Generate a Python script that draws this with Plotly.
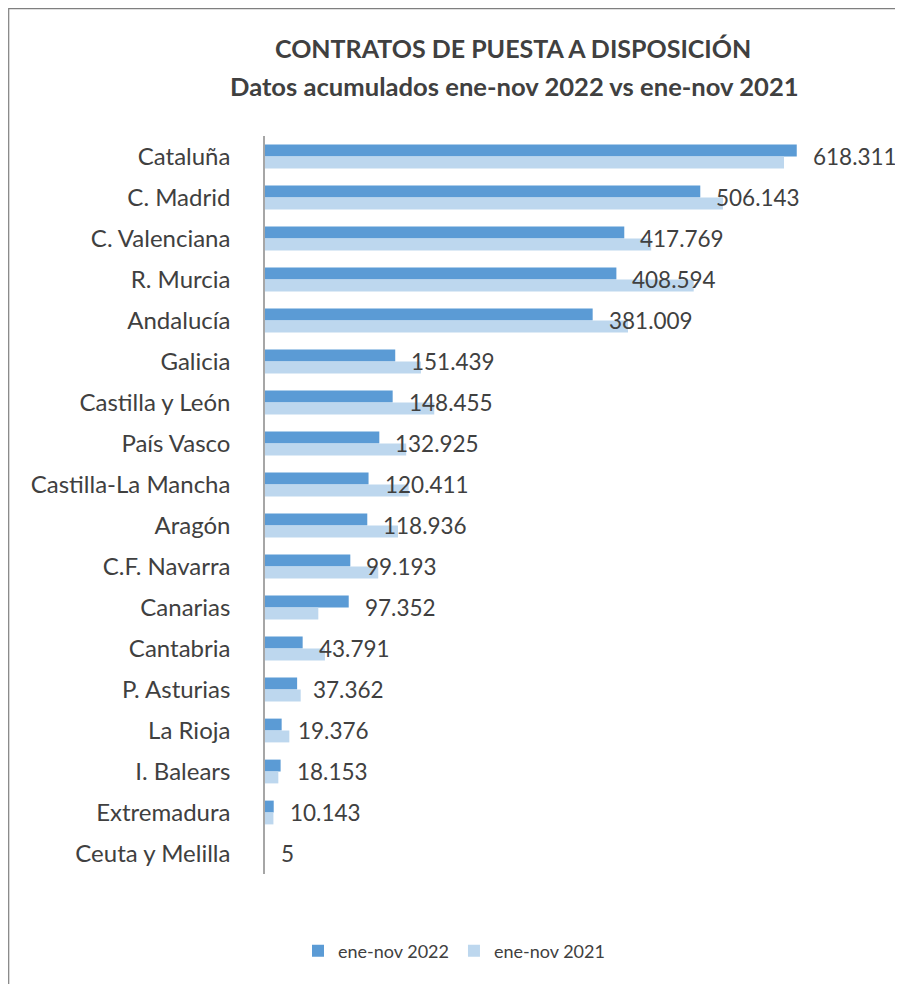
import plotly.graph_objects as go

categories = ["Cataluña", "C. Madrid", "C. Valenciana", "R. Murcia", "Andalucía", "Galicia",
              "Castilla y León", "País Vasco", "Castilla-La Mancha", "Aragón", "C.F. Navarra",
              "Canarias", "Cantabria", "P. Asturias", "La Rioja", "I. Balears", "Extremadura",
              "Ceuta y Melilla"]
values_2022 = [618311, 506143, 417769, 408594, 381009, 151439, 148455, 132925, 120411, 118936,
               99193, 97352, 43791, 37362, 19376, 18153, 10143, 5]
values_2021 = [603500, 532500, 449100, 498500, 422100, 181300, 196800, 164200, 167000, 154600,
               131700, 62000, 69700, 41500, 28300, 15500, 9800, 4]
series_names = ["ene-nov 2022", "ene-nov 2021"]
title_text = "CONTRATOS DE PUESTA A DISPOSICIÓN"
subtitle_text = "Datos acumulados ene-nov 2022 vs ene-nov 2021"

FONT = "Lato"
TXT = "#404040"

# page body has an 8px margin; coordinates below are screen pixels
OFF = 8
W, H = 903 - OFF, 984 - OFF
L, R, T, B = 265 - OFF, 36, 136 - OFF, 110
pw, ph = W - L - R, H - T - B

def px(x):
    return (x - OFF - L) / pw

def py(y):
    return (H - B - (y - OFF)) / ph

fig = go.Figure()
fig.add_trace(go.Bar(y=categories, x=values_2022, name=series_names[0], orientation="h",
                     marker=dict(color="#5B9BD5", line=dict(width=0))))
fig.add_trace(go.Bar(y=categories, x=values_2021, name=series_names[1], orientation="h",
                     marker=dict(color="#BDD7EE", line=dict(width=0))))

annotations = []
for c, v in zip(categories, values_2022):
    annotations.append(dict(x=v, y=c, xref="x", yref="y", text=f"{v:,}".replace(",", "."),
                            showarrow=False, xanchor="left", yanchor="middle", xshift=14,
                            font=dict(family=FONT, size=22.5, color=TXT)))
annotations.append(dict(x=px(513), y=py(48), xref="paper", yref="paper", text=f"<b>{title_text}</b>",
                        showarrow=False, xanchor="center", yanchor="middle",
                        font=dict(family=FONT, size=25, color=TXT)))
annotations.append(dict(x=px(514), y=py(86), xref="paper", yref="paper", text=f"<b>{subtitle_text}</b>",
                        showarrow=False, xanchor="center", yanchor="middle",
                        font=dict(family=FONT, size=25.6, color=TXT)))

fig.update_layout(
    width=W, height=H,
    margin=dict(l=L, r=R, t=T, b=B, autoexpand=False),
    paper_bgcolor="white", plot_bgcolor="white",
    barmode="group", bargap=0.42, bargroupgap=0,
    showlegend=True,
    legend=dict(orientation="h", x=px(454), xanchor="center", y=py(951), yanchor="middle",
                font=dict(family=FONT, size=18, color=TXT), traceorder="normal"),
    annotations=annotations,
    shapes=[dict(type="rect", xref="paper", yref="paper", x0=px(8.7), x1=px(901.5), y0=py(990), y1=py(8.7),
                 line=dict(color="#7F7F7F", width=1.2), fillcolor="rgba(0,0,0,0)", layer="below")],
    xaxis=dict(range=[0, 700000], visible=False, showgrid=False, zeroline=False),
    yaxis=dict(autorange="reversed", showline=True, linecolor="#A6A6A6", linewidth=1.5,
               ticks="", showgrid=False, ticklabelstandoff=28,
               tickfont=dict(family=FONT, size=24, color=TXT)),
    font=dict(family=FONT, color=TXT),
)

fig.write_html("out.html")
